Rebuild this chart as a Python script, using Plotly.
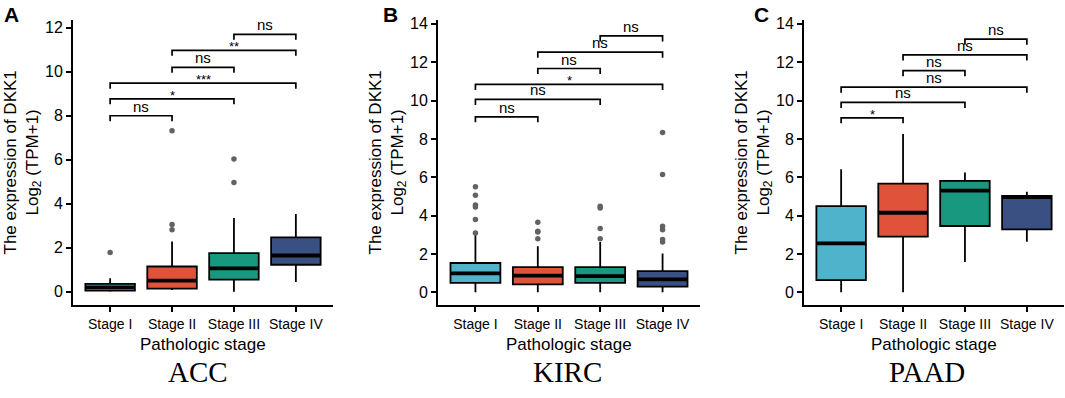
import plotly.graph_objects as go

W, H = 1065, 398

stages = ["Stage I", "Stage II", "Stage III", "Stage IV"]
stage_colors = ["#4FB3CC", "#E0523A", "#17987F", "#3A5083"]
panel_letters = ["A", "B", "C"]
cancer_names = ["ACC", "KIRC", "PAAD"]
x_title = "Pathologic stage"
y_title = "The expression of DKK1<br>Log<sub>2</sub> (TPM+1)"

# ---------------- ACC ----------------
acc_q1 = [0.05, 0.14, 0.55, 1.23]
acc_med = [0.20, 0.51, 1.06, 1.65]
acc_q3 = [0.36, 1.15, 1.76, 2.47]
acc_lo = [0.00, 0.08, 0.00, 0.44]
acc_hi = [0.62, 2.29, 3.35, 3.53]
acc_out_stage = [0, 1, 1, 1, 2, 2]
acc_out_val = [1.79, 2.82, 3.06, 7.32, 4.97, 6.03]
acc_sig_a = [0, 0, 0, 1, 1, 2]
acc_sig_b = [1, 2, 3, 2, 3, 3]
acc_sig_y = [8.0, 8.77, 9.48, 10.2, 10.97, 11.7]
acc_sig_lab = ["ns", "*", "***", "ns", "**", "ns"]

# ---------------- KIRC ----------------
kirc_q1 = [0.49, 0.42, 0.49, 0.30]
kirc_med = [0.99, 0.87, 0.85, 0.68]
kirc_q3 = [1.53, 1.32, 1.32, 1.11]
kirc_lo = [0.00, 0.00, 0.00, 0.00]
kirc_hi = [3.02, 2.40, 2.63, 2.02]
kirc_out_stage = [0, 0, 0, 0, 0, 0, 1, 1, 1, 1, 2, 2, 2, 2, 3, 3, 3, 3, 3, 3]
kirc_out_val = [3.10, 3.80, 4.45, 4.55, 5.06, 5.50,
                2.80, 3.15, 3.18, 3.65,
                2.80, 3.33, 4.40, 4.49,
                2.63, 2.75, 3.27, 3.45, 6.15, 8.34]
kirc_sig_a = [0, 0, 0, 1, 1, 2]
kirc_sig_b = [1, 2, 3, 2, 3, 3]
kirc_sig_y = [9.15, 10.06, 10.84, 11.67, 12.52, 13.37]
kirc_sig_lab = ["ns", "ns", "*", "ns", "ns", "ns"]

# ---------------- PAAD ----------------
paad_q1 = [0.64, 2.90, 3.46, 3.28]
paad_med = [2.55, 4.15, 5.30, 4.96]
paad_q3 = [4.50, 5.67, 5.81, 5.03]
paad_lo = [0.00, 0.00, 1.58, 2.64]
paad_hi = [6.42, 8.26, 6.25, 5.25]
paad_out_stage = []
paad_out_val = []
paad_sig_a = [0, 0, 0, 1, 1, 2]
paad_sig_b = [1, 2, 3, 2, 3, 3]
paad_sig_y = [9.1, 9.9, 10.7, 11.56, 12.38, 13.2]
paad_sig_lab = ["*", "ns", "ns", "ns", "ns", "ns"]

panels = [
    dict(q1=acc_q1, med=acc_med, q3=acc_q3, lo=acc_lo, hi=acc_hi,
         out_s=acc_out_stage, out_v=acc_out_val,
         sa=acc_sig_a, sb=acc_sig_b, sy=acc_sig_y, sl=acc_sig_lab,
         yrange=[-0.6, 12.35], ytick=[0, 2, 4, 6, 8, 10, 12],
         xpx=(73, 333)),
    dict(q1=kirc_q1, med=kirc_med, q3=kirc_q3, lo=kirc_lo, hi=kirc_hi,
         out_s=kirc_out_stage, out_v=kirc_out_val,
         sa=kirc_sig_a, sb=kirc_sig_b, sy=kirc_sig_y, sl=kirc_sig_lab,
         yrange=[-0.66, 14.2], ytick=[0, 2, 4, 6, 8, 10, 12, 14],
         xpx=(438, 700)),
    dict(q1=paad_q1, med=paad_med, q3=paad_q3, lo=paad_lo, hi=paad_hi,
         out_s=paad_out_stage, out_v=paad_out_val,
         sa=paad_sig_a, sb=paad_sig_b, sy=paad_sig_y, sl=paad_sig_lab,
         yrange=[-0.66, 14.2], ytick=[0, 2, 4, 6, 8, 10, 12, 14],
         xpx=(804, 1064)),
]

FONT = "Liberation Sans, Arial, Helvetica, sans-serif"
SERIF = "Liberation Serif, Times New Roman, serif"
ytop_px, ybot_px = 20, 305
ydom = [(H - ybot_px) / H, (H - ytop_px) / H]
xr = [-0.6, 3.6]
box_w = 0.8

fig = go.Figure()
annotations = []
layout_axes = {}

for i, p in enumerate(panels):
    n = "" if i == 0 else str(i + 1)
    xa, ya = "x" + n, "y" + n
    px_per_unit = (ybot_px - ytop_px) / (p["yrange"][1] - p["yrange"][0])

    for k, st in enumerate(stages):
        fig.add_trace(go.Box(
            x=[k], q1=[p["q1"][k]], median=[p["med"][k]], q3=[p["q3"][k]],
            lowerfence=[p["lo"][k]], upperfence=[p["hi"][k]],
            width=box_w, whiskerwidth=0, fillcolor=stage_colors[k],
            line=dict(color="black", width=1.8), boxpoints=False,
            showlegend=False, hoverinfo="skip", xaxis=xa, yaxis=ya))
        # thick median line (ggplot style)
        fig.add_trace(go.Scatter(
            x=[k - box_w / 2, k + box_w / 2], y=[p["med"][k], p["med"][k]],
            mode="lines", line=dict(color="black", width=3.8),
            showlegend=False, hoverinfo="skip", xaxis=xa, yaxis=ya))

    if p["out_s"]:
        fig.add_trace(go.Scatter(
            x=p["out_s"], y=p["out_v"], mode="markers",
            marker=dict(color="#666161", size=5.5),
            showlegend=False, hoverinfo="skip", xaxis=xa, yaxis=ya))

    # significance brackets
    tick = 5.5 / px_per_unit
    bx, by = [], []
    for a, b, yv, lab in zip(p["sa"], p["sb"], p["sy"], p["sl"]):
        bx += [a, a, b, b, None]
        by += [yv - tick, yv, yv, yv - tick, None]
        star = "*" in lab
        annotations.append(dict(
            x=(a + b) / 2, y=yv, xref=xa, yref=ya, text=lab, showarrow=False,
            yanchor="bottom", yshift=-6 if star else -1,
            font=dict(family=FONT, size=15 if not star else 13, color="black")))
    fig.add_trace(go.Scatter(
        x=bx, y=by, mode="lines", line=dict(color="black", width=1.7),
        showlegend=False, hoverinfo="skip", xaxis=xa, yaxis=ya))

    x0, x1 = p["xpx"]
    layout_axes["xaxis" + n] = dict(
        domain=[x0 / W, x1 / W], range=xr, anchor=ya, automargin=False,
        tickmode="array", tickvals=[0, 1, 2, 3], ticktext=stages,
        showline=True, linecolor="black", linewidth=2,
        ticks="outside", ticklen=5, tickwidth=1.7, tickcolor="black",
        showgrid=False, zeroline=False,
        tickfont=dict(family=FONT, size=14, color="black"))
    layout_axes["yaxis" + n] = dict(
        domain=ydom, range=p["yrange"], anchor=xa, automargin=False,
        tickmode="array", tickvals=p["ytick"],
        showline=True, linecolor="black", linewidth=2,
        ticks="outside", ticklen=5, tickwidth=1.7, tickcolor="black",
        showgrid=False, zeroline=False,
        tickfont=dict(family=FONT, size=16, color="black"))

    # y title
    annotations.append(dict(
        x=(x0 - 50) / W, y=(ydom[0] + ydom[1]) / 2, xref="paper", yref="paper",
        text=y_title, textangle=-90, showarrow=False,
        xanchor="center", yanchor="middle",
        font=dict(family=FONT, size=17, color="black")))
    # x title
    annotations.append(dict(
        x=(x0 + x1) / 2 / W, y=(H - 344) / H, xref="paper", yref="paper",
        text=x_title, showarrow=False, xanchor="center", yanchor="middle",
        font=dict(family=FONT, size=17, color="black")))
    # panel letter
    lx = [2, 381, 752][i]
    annotations.append(dict(
        x=lx / W, y=1 - 1 / H, xref="paper", yref="paper",
        text="<b>" + panel_letters[i] + "</b>", showarrow=False,
        xanchor="left", yanchor="top",
        font=dict(family=FONT, size=21, color="black")))
    # cancer name
    cx = [198, 567, 927][i]
    annotations.append(dict(
        x=cx / W, y=(H - 372) / H, xref="paper", yref="paper",
        text=cancer_names[i], showarrow=False, xanchor="center", yanchor="middle",
        font=dict(family=SERIF, size=29, color="black")))

fig.update_layout(
    width=W, height=H, margin=dict(l=0, r=0, t=0, b=0),
    paper_bgcolor="white", plot_bgcolor="white",
    boxmode="overlay", showlegend=False,
    annotations=annotations, **layout_axes)

fig.write_html("out.html",
               config={"displayModeBar": False},
               post_script="document.body.style.margin='0';document.body.style.overflow='hidden';")
